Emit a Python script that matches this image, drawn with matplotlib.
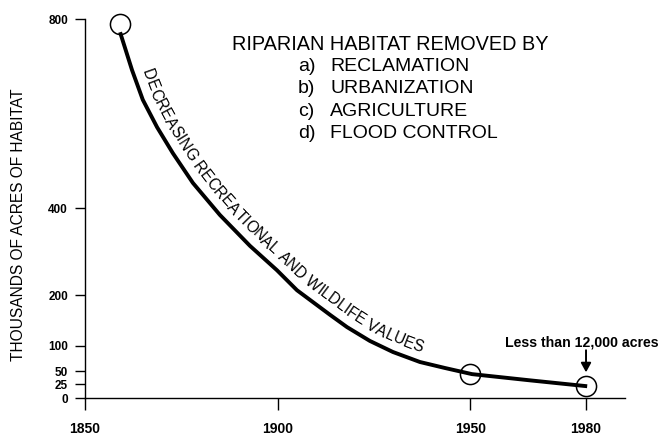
import numpy as np
import matplotlib
matplotlib.use("Agg")
import matplotlib.pyplot as plt
from matplotlib import transforms as mtransforms
from matplotlib.font_manager import FontProperties, findfont
from matplotlib.ft2font import FT2Font

plt.rcParams['font.family'] = ['Liberation Sans', 'DejaVu Sans']

# the y axis is not evenly spaced: tick value -> height above the baseline
tick_vals = [0, 25, 50, 100, 200, 400, 800]
tick_dist = [0, 14, 27, 52, 103, 190, 379]
year_ticks = [1850, 1900, 1950, 1980]

# curve (thousands of acres)
years = [1859.1, 1862.2, 1865.0, 1868.7, 1872.8, 1878.0, 1885.0, 1892.8, 1899.8, 1905.0,
         1913.6, 1918.0, 1923.9, 1929.9, 1936.9, 1943.4, 1950.4, 1965.5, 1980.3]
acres = [772, 692, 629, 571, 516, 453, 384, 313, 257, 211,
         161, 137, 110, 88, 68, 56, 44, 32, 21]

circle_years = [1859, 1950, 1980]
circle_acres = [790, 44, 21]

title = "RIPARIAN HABITAT REMOVED BY"
list_tags = ["a)", "b)", "c)", "d)"]
list_items = ["RECLAMATION", "URBANIZATION", "AGRICULTURE", "FLOOD CONTROL"]
curve_text = "DECREASING RECREATIONAL AND WILDLIFE VALUES"
note = "Less than 12,000 acres"


def fwd(v):
    return np.interp(v, tick_vals, tick_dist)


def inv(p):
    return np.interp(p, tick_dist, tick_vals)


W, H = 665, 436
fig = plt.figure(figsize=(W / 100, H / 100), dpi=100)
ax = fig.add_axes([85 / W, (H - 398) / H, 540 / W, 379 / H])
ax.set_yscale('function', functions=(fwd, inv))
ax.set_xlim(1850, 1850 + 540 / 3.854)
ax.set_ylim(0, 800)

ax.plot(years, acres, color='black', lw=2.8, solid_capstyle='butt',
        solid_joinstyle='round', clip_on=False)
ax.plot(circle_years, circle_acres, 'o', ms=14.5, mfc='none', mec='black', mew=1.1, clip_on=False)

for s in ['top', 'right']:
    ax.spines[s].set_visible(False)
for s in ['left', 'bottom']:
    ax.spines[s].set_linewidth(1.0)

ax.set_yticks(tick_vals)
ax.set_yticklabels([str(v) for v in tick_vals], fontweight='bold')
ax.yaxis.set_minor_locator(matplotlib.ticker.NullLocator())
ax.set_xticks(year_ticks)
ax.set_xticklabels([str(v) for v in year_ticks], fontweight='bold')
ax.tick_params(axis='y', length=7.2, width=1.0, pad=5, labelsize=8.5)
ax.tick_params(axis='x', length=8.6, width=1.0, pad=9, labelsize=10)

fig.text(19 / W, 1 - 225 / H, "THOUSANDS OF ACRES OF HABITAT", rotation=90,
         ha='center', va='center', fontsize=11.2)

fig.text(232 / W, 1 - 44 / H, title, ha='left', va='center', fontsize=14.3)
for i, (tag, item) in enumerate(zip(list_tags, list_items)):
    yy = 1 - (66.5 + 22.3 * i) / H
    fig.text(298 / W, yy, tag, ha='left', va='center', fontsize=14)
    fig.text(330 / W, yy, item, ha='left', va='center', fontsize=14)

ax.annotate(note, xy=(circle_years[2], circle_acres[2]), xytext=(-4, 44),
            textcoords='offset pixels', ha='center', va='center',
            fontsize=10.2, fontweight='bold', annotation_clip=False)
ax.annotate('', xy=(circle_years[2], circle_acres[2]), xytext=(0, 36),
            textcoords='offset pixels', annotation_clip=False,
            arrowprops=dict(arrowstyle='-|>,head_length=0.55,head_width=0.3',
                            color='black', lw=1.4, shrinkA=0, shrinkB=10,
                            mutation_scale=10))

# text laid along the curve, one character at a time
fig.canvas.draw()
pts = ax.transData.transform(np.column_stack([years, acres]))
seg = np.hypot(np.diff(pts[:, 0]), np.diff(pts[:, 1]))
s = np.concatenate([[0], np.cumsum(seg)])
ss = np.arange(0, s[-1], 1.0)
xs = np.interp(ss, s, pts[:, 0])
ys = np.interp(ss, s, pts[:, 1])
k = 31
xs = np.convolve(np.pad(xs, k // 2, mode='reflect', reflect_type='odd'), np.ones(k) / k, mode='valid')
ys = np.convolve(np.pad(ys, k // 2, mode='reflect', reflect_type='odd'), np.ones(k) / k, mode='valid')
tx, ty = np.gradient(xs), np.gradient(ys)
nrm = np.hypot(tx, ty)
tx, ty = tx / nrm, ty / nrm
off = 9.0
ox, oy = xs - off * ty, ys + off * tx
os_ = np.concatenate([[0], np.cumsum(np.hypot(np.diff(ox), np.diff(oy)))])

x_a = ax.transData.transform((1862.6, 100))[0]
x_b = ax.transData.transform((1936.5, 100))[0]
s_a = os_[np.searchsorted(xs, x_a)]
s_b = os_[np.searchsorted(xs, x_b)]

prop = FontProperties(family='Liberation Sans', size=10)
font = FT2Font(findfont(prop))
font.set_size(10, fig.dpi)
adv = []
for c in curve_text:
    g = font.load_char(ord(c))
    adv.append(g.linearHoriAdvance / 65536)
adv = np.array(adv)
scale = (s_b - s_a) / adv.sum()
fs = 10 * scale
cum = np.concatenate([[0], np.cumsum(adv)])[:-1]
for c, a, cu in zip(curve_text, adv, cum):
    sc = s_a + (cu + a / 2) * scale
    px = np.interp(sc, os_, ox)
    py = np.interp(sc, os_, oy)
    ang = np.degrees(np.arctan2(np.interp(sc, os_, ty), np.interp(sc, os_, tx)))
    fig.text(px, py, c, transform=mtransforms.IdentityTransform(), rotation=ang,
             rotation_mode='anchor', ha='center', va='baseline', fontsize=fs)

fig.savefig('out.png', dpi=100)
